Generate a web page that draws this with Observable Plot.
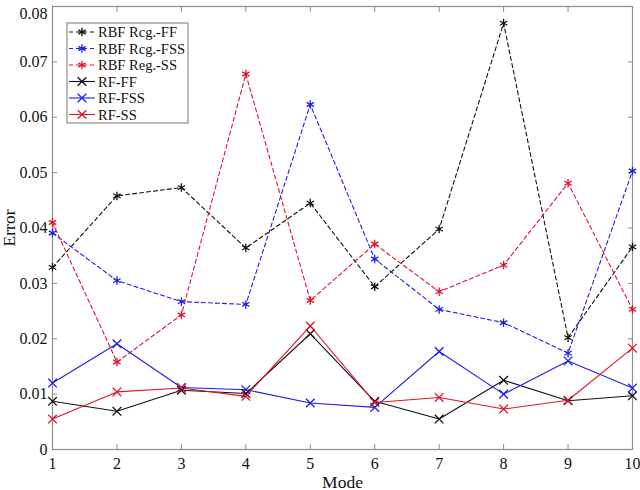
<!DOCTYPE html>
<html>
<head>
<meta charset="utf-8">
<script src="https://cdn.jsdelivr.net/npm/d3@7"></script>
<script src="https://cdn.jsdelivr.net/npm/@observablehq/plot@0.6"></script>
<style>
  html, body { margin: 0; padding: 0; background: #fff; }
  #chart svg { display: block; }
</style>
</head>
<body>
<div id="chart"></div>
<script>
const modes = [1, 2, 3, 4, 5, 6, 7, 8, 9, 10];
const seriesNames = ["RBF Rcg.-FF", "RBF Rcg.-FSS", "RBF Reg.-SS", "RF-FF", "RF-FSS", "RF-SS"];
const rbfFF  = [0.0329, 0.0458, 0.0473, 0.0364, 0.0445, 0.0294, 0.0398, 0.0770, 0.0202, 0.0366];
const rbfFSS = [0.0391, 0.0305, 0.0267, 0.0262, 0.0623, 0.0344, 0.0253, 0.0229, 0.0174, 0.0503];
const rbfSS  = [0.0410, 0.0158, 0.0243, 0.0678, 0.0269, 0.0371, 0.0285, 0.0333, 0.0481, 0.0253];
const rfFF   = [0.0087, 0.0069, 0.0107, 0.0101, 0.0209, 0.0087, 0.0055, 0.0125, 0.0088, 0.0097];
const rfFSS  = [0.0120, 0.0191, 0.0112, 0.0108, 0.0084, 0.0076, 0.0177, 0.0100, 0.0160, 0.0111];
const rfSS   = [0.0055, 0.0104, 0.0111, 0.0096, 0.0223, 0.0085, 0.0094, 0.0073, 0.0089, 0.0183];
const xTicks = [1, 2, 3, 4, 5, 6, 7, 8, 9, 10];
const yTicks = [0, 0.01, 0.02, 0.03, 0.04, 0.05, 0.06, 0.07, 0.08];

const BLACK = "#111111", BLUE = "#1e1ee6", RED = "#e0142e";
const styles = [
  {color: BLACK, dash: "4,3", symbol: "asterisk"},
  {color: BLUE,  dash: "4,3", symbol: "asterisk"},
  {color: RED,   dash: "4,3", symbol: "asterisk"},
  {color: BLACK, dash: null,  symbol: "times"},
  {color: BLUE,  dash: null,  symbol: "times"},
  {color: RED,   dash: null,  symbol: "times"}
];
const seriesValues = [rbfFF, rbfFSS, rbfSS, rfFF, rfFSS, rfSS];
const tables = seriesValues.map((vals, i) =>
  modes.map((m, j) => ({mode: m, value: vals[j], series: seriesNames[i]})));

const FONT = "'Liberation Serif', 'Times New Roman', serif";
const GRAY = "#8c8c8c";

const marks = [];
tables.forEach((t, i) => {
  const s = styles[i];
  marks.push(Plot.line(t, {x: "mode", y: "value", stroke: s.color, strokeWidth: 1.1,
    strokeDasharray: s.dash || undefined}));
});
tables.forEach((t, i) => {
  const s = styles[i];
  marks.push(Plot.dot(t, {x: "mode", y: "value", symbol: () => s.symbol, stroke: s.color,
    strokeWidth: 1.3, r: 4}));
});

const plot = Plot.plot({
  width: 640,
  height: 490,
  marginLeft: 52,
  marginRight: 8,
  marginTop: 6,
  marginBottom: 41,
  style: {fontFamily: FONT, fontSize: "16px", color: "#111", background: "#fff"},
  x: {domain: [1, 10]},
  y: {domain: [0, 0.08]},
  symbol: {type: "identity"},
  marks: [
    Plot.frame({stroke: GRAY, strokeWidth: 1.2}),
    Plot.axisX(xTicks, {anchor: "bottom", tickSize: -5, text: null, stroke: GRAY, label: null}),
    Plot.axisX(xTicks, {anchor: "top", tickSize: -5, text: null, stroke: GRAY, label: null}),
    Plot.axisY(yTicks, {anchor: "left", tickSize: -5, text: null, stroke: GRAY, label: null}),
    Plot.axisY(yTicks, {anchor: "right", tickSize: -5, text: null, stroke: GRAY, label: null}),
    Plot.axisX(xTicks, {anchor: "bottom", tickSize: 0, tickPadding: 8, fontSize: 16,
      label: "Mode", labelArrow: "none", labelAnchor: "center", labelOffset: 38}),
    Plot.axisY(yTicks, {anchor: "left", tickSize: 0, tickPadding: 5, fontSize: 16,
      tickFormat: d => d === 0 ? "0" : d.toFixed(2),
      label: "Error", labelArrow: "none", labelAnchor: "center", labelOffset: 50}),
    ...marks
  ]
});

document.getElementById("chart").appendChild(plot);

// Make axis titles slightly larger, like the reference
d3.select(plot).selectAll("g[aria-label='x-axis label'] text, g[aria-label='y-axis label'] text")
  .attr("font-size", 17.5);
// keep the topmost y tick label fully inside the picture
d3.select(plot).selectAll("g[aria-label='y-axis tick label'] text")
  .filter(function() { return this.textContent === "0.08"; })
  .attr("dy", "0.45em");

// Legend (inside the plot, top-left), MATLAB-style box
const svg = d3.select(plot);
const lg = svg.append("g").attr("font-family", FONT).attr("font-size", 14.5)
  .attr("text-anchor", "start");
const bx = 67, by = 23, bw = 121, bh = 100;
lg.append("rect").attr("x", bx).attr("y", by).attr("width", bw).attr("height", bh)
  .attr("fill", "#fff").attr("stroke", GRAY).attr("stroke-width", 1.2);
seriesNames.forEach((name, i) => {
  const s = styles[i];
  const yy = 32 + i * 16.5;
  lg.append("line").attr("x1", 69).attr("x2", 95).attr("y1", yy).attr("y2", yy)
    .attr("stroke", s.color).attr("stroke-width", 1.1)
    .attr("stroke-dasharray", s.dash);
  lg.append("path")
    .attr("d", d3.symbol(s.symbol === "asterisk" ? d3.symbolAsterisk : d3.symbolTimes, 50)())
    .attr("transform", `translate(82,${yy})`)
    .attr("fill", "none").attr("stroke", s.color).attr("stroke-width", 1.3);
  lg.append("text").attr("x", 98).attr("y", yy).attr("dy", "0.35em")
    .attr("text-anchor", "start").attr("fill", "#111").text(name);
});
</script>
</body>
</html>
